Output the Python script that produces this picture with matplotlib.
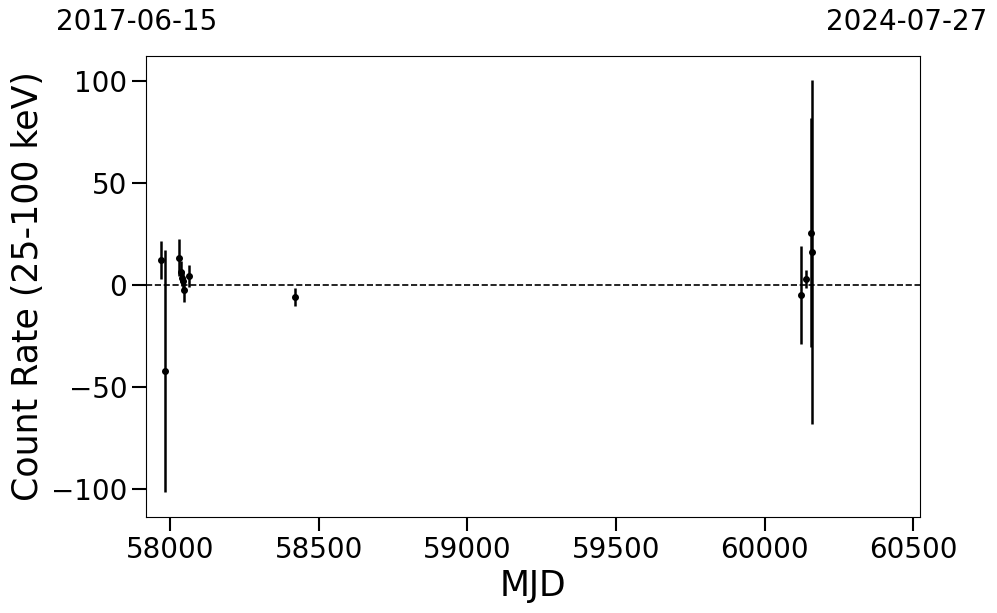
import matplotlib
matplotlib.use("Agg")
import matplotlib.pyplot as plt

mjd = [57970, 57983, 58030, 58037, 58041, 58044, 58048, 58062, 58420,
       60123, 60139, 60155, 60159]
rate = [12.3, -42.0, 13.3, 6.5, 3.5, 2.0, -2.5, 4.5, -6.0,
        -5.0, 3.0, 25.5, 16.2]
err = [9.2, 59.2, 9.0, 5.0, 4.0, 5.0, 6.0, 5.5, 4.5,
       24.0, 4.5, 56.0, 84.0]
start_label = "2017-06-15"
end_label = "2024-07-27"
xlim = (57919, 60522)
ylim = (-113.5, 112)

fig = plt.figure(figsize=(9.97, 6.13), dpi=100)
ax = fig.add_axes([146/997, 1-517/613, (920-146)/997, (517-56)/613])

ax.errorbar(mjd, rate, yerr=err, fmt='o', color='black', ms=4, elinewidth=1.8, capsize=0)
ax.axhline(0, color='black', ls='--', lw=1.2)
ax.set_xlim(*xlim)
ax.set_ylim(*ylim)
ax.set_xticks([58000, 58500, 59000, 59500, 60000, 60500])
ax.set_yticks([-100, -50, 0, 50, 100])
ax.tick_params(axis='both', labelsize=20, length=10, width=1.5)
ax.set_xlabel("MJD", fontsize=25)
ax.set_ylabel("Count Rate (25-100 keV)", fontsize=25)

fig.text(137/997, 1-22/613, start_label, fontsize=20, ha='center', va='center')
fig.text(907/997, 1-22/613, end_label, fontsize=20, ha='center', va='center')

fig.savefig("out.png", dpi=100)
